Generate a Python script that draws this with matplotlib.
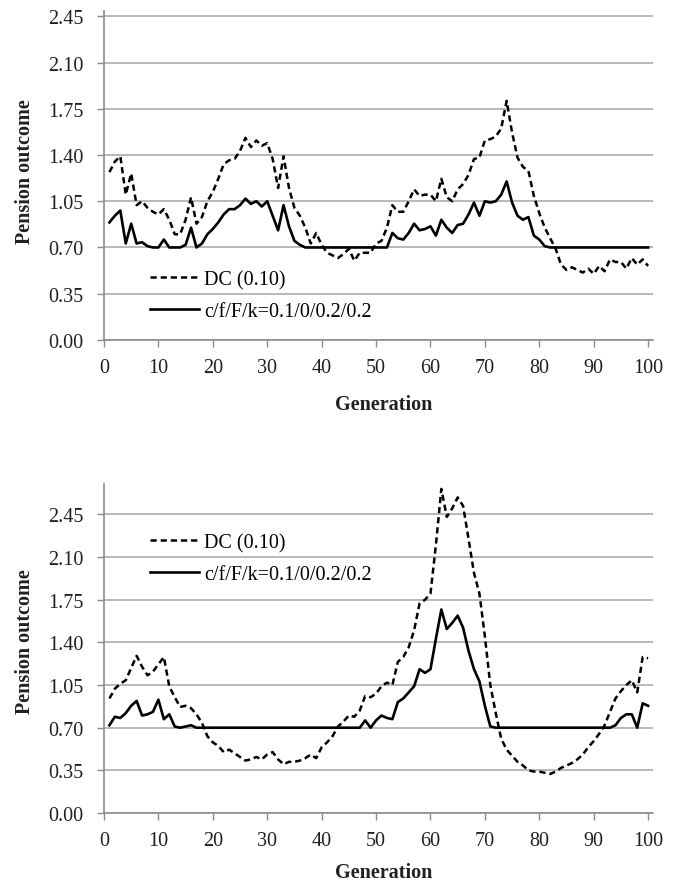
import numpy as np
import matplotlib
matplotlib.use('Agg')
import matplotlib.pyplot as plt

plt.rcParams['font.family'] = ['Liberation Serif', 'DejaVu Serif']
plt.rcParams['lines.scale_dashes'] = False

# Generations 1..100
generation = np.arange(1, 101)

# Upper panel values
dc_top = [
    1.27, 1.35, 1.39, 1.10, 1.26, 1.02, 1.05, 1.00, 0.97, 0.95,
    0.99, 0.91, 0.80, 0.80, 0.91, 1.08, 0.88, 0.93, 1.05, 1.12,
    1.22, 1.33, 1.36, 1.37, 1.43, 1.53, 1.46, 1.51, 1.47, 1.49,
    1.37, 1.15, 1.39, 1.15, 1.00, 0.94, 0.85, 0.73, 0.81, 0.72,
    0.66, 0.64, 0.62, 0.65, 0.69, 0.60, 0.66, 0.66, 0.66, 0.73,
    0.75, 0.85, 1.02, 0.97, 0.97, 1.05, 1.14, 1.09, 1.10, 1.10,
    1.05, 1.22, 1.08, 1.05, 1.14, 1.18, 1.25, 1.37, 1.38, 1.51,
    1.52, 1.54, 1.60, 1.81, 1.57, 1.38, 1.31, 1.28, 1.09, 0.96,
    0.85, 0.77, 0.69, 0.57, 0.53, 0.55, 0.53, 0.51, 0.54, 0.50,
    0.56, 0.52, 0.61, 0.59, 0.59, 0.54, 0.62, 0.57, 0.61, 0.56,
]
cf_top = [
    0.89, 0.94, 0.98, 0.73, 0.88, 0.73, 0.74, 0.71, 0.70, 0.70,
    0.76, 0.70, 0.70, 0.70, 0.72, 0.85, 0.70, 0.73, 0.80, 0.84,
    0.89, 0.95, 0.99, 0.99, 1.02, 1.07, 1.03, 1.05, 1.01, 1.05,
    0.94, 0.83, 1.02, 0.86, 0.75, 0.72, 0.70, 0.70, 0.70, 0.70,
    0.70, 0.70, 0.70, 0.70, 0.70, 0.70, 0.70, 0.70, 0.70, 0.70,
    0.70, 0.70, 0.81, 0.77, 0.76, 0.81, 0.88, 0.83, 0.84, 0.86,
    0.79, 0.91, 0.85, 0.81, 0.87, 0.88, 0.95, 1.04, 0.94, 1.05,
    1.04, 1.05, 1.10, 1.20, 1.04, 0.94, 0.91, 0.93, 0.79, 0.76,
    0.71, 0.70, 0.70, 0.70, 0.70, 0.70, 0.70, 0.70, 0.70, 0.70,
    0.70, 0.70, 0.70, 0.70, 0.70, 0.70, 0.70, 0.70, 0.70, 0.70,
]

# Lower panel values
dc_bottom = [
    0.94, 1.02, 1.06, 1.09, 1.19, 1.29, 1.20, 1.13, 1.16, 1.22,
    1.28, 1.04, 0.95, 0.87, 0.88, 0.86, 0.81, 0.74, 0.63, 0.58,
    0.55, 0.50, 0.52, 0.49, 0.46, 0.43, 0.44, 0.46, 0.44, 0.48,
    0.50, 0.44, 0.40, 0.42, 0.42, 0.43, 0.45, 0.48, 0.45, 0.54,
    0.58, 0.63, 0.71, 0.75, 0.80, 0.79, 0.84, 0.96, 0.95, 0.98,
    1.04, 1.07, 1.05, 1.24, 1.28, 1.36, 1.50, 1.72, 1.75, 1.80,
    2.20, 2.66, 2.43, 2.50, 2.59, 2.52, 2.25, 1.97, 1.80, 1.45,
    1.05, 0.82, 0.61, 0.52, 0.47, 0.42, 0.39, 0.35, 0.34, 0.34,
    0.33, 0.32, 0.34, 0.37, 0.39, 0.41, 0.44, 0.48, 0.54, 0.59,
    0.65, 0.72, 0.83, 0.94, 1.00, 1.05, 1.09, 0.99, 1.28, 1.27,
]
cf_bottom = [
    0.72, 0.79, 0.78, 0.82, 0.88, 0.92, 0.80, 0.81, 0.83, 0.93,
    0.77, 0.81, 0.71, 0.70, 0.71, 0.72, 0.70, 0.70, 0.70, 0.70,
    0.70, 0.70, 0.70, 0.70, 0.70, 0.70, 0.70, 0.70, 0.70, 0.70,
    0.70, 0.70, 0.70, 0.70, 0.70, 0.70, 0.70, 0.70, 0.70, 0.70,
    0.70, 0.70, 0.70, 0.70, 0.70, 0.70, 0.70, 0.76, 0.70, 0.76,
    0.80, 0.78, 0.77, 0.91, 0.94, 0.99, 1.04, 1.18, 1.15, 1.18,
    1.43, 1.67, 1.51, 1.56, 1.62, 1.52, 1.33, 1.18, 1.08, 0.88,
    0.71, 0.70, 0.70, 0.70, 0.70, 0.70, 0.70, 0.70, 0.70, 0.70,
    0.70, 0.70, 0.70, 0.70, 0.70, 0.70, 0.70, 0.70, 0.70, 0.70,
    0.70, 0.70, 0.70, 0.72, 0.78, 0.81, 0.81, 0.70, 0.90, 0.88,
]

y_ticks = [0.00, 0.35, 0.70, 1.05, 1.40, 1.75, 2.10, 2.45]
x_ticks = [0, 10, 20, 30, 40, 50, 60, 70, 80, 90, 100]
labels = ['DC (0.10)', 'c/f/F/k=0.1/0/0.2/0.2']

fig = plt.figure(figsize=(6.85, 8.87), dpi=100)
ax_top = fig.add_axes([0.1518, 0.6156, 0.8015, 0.3709])
ax_bot = fig.add_axes([0.1518, 0.0823, 0.8015, 0.3709])

text_col = '#231f20'
fs = 14.5


def style_axes(ax, ymax, legend_y, ylabel_y, xlabel_y):
    ax.set_xlim(0, 100.9)
    ax.set_ylim(0, ymax)
    ax.set_xticks(x_ticks)
    ax.set_yticks(y_ticks)
    ax.set_yticklabels([f'{t:.2f}' for t in y_ticks])
    ax.yaxis.grid(True, color='#a6a6a6', linewidth=1.1)
    ax.set_axisbelow(True)
    for side in ['top', 'right']:
        ax.spines[side].set_visible(False)
    for side in ['left', 'bottom']:
        ax.spines[side].set_color('#8c8c8c')
        ax.spines[side].set_linewidth(1.2)
    ax.tick_params(axis='both', direction='out', length=5, width=1.0,
                   color='#8c8c8c', labelsize=fs, labelcolor=text_col)
    ax.tick_params(axis='y', pad=10)
    ax.tick_params(axis='x', pad=8)
    ax.set_xlabel('Generation', fontsize=fs, fontweight='bold',
                  color=text_col, va='center')
    ax.xaxis.set_label_coords(0.51, xlabel_y)
    ax.set_ylabel('Pension outcome', fontsize=fs, fontweight='bold',
                  color=text_col, va='center')
    ax.yaxis.set_label_coords(-0.144, ylabel_y)
    ax.legend(labels, loc='center left', bbox_to_anchor=(0.084, legend_y),
              frameon=False, fontsize=fs, handlelength=2.45,
              handletextpad=0.25, labelspacing=0.65, borderpad=0,
              borderaxespad=0)


for ax, dc, cf, ymax, ly, yl, xl in [
        (ax_top, dc_top, cf_top, 2.49, 0.135, 0.515, -0.195),
        (ax_bot, dc_bottom, cf_bottom, 2.70, 0.773, 0.525, -0.178)]:
    ax.plot(generation, dc, color='black', linewidth=1.8,
            linestyle=(0, (4.5, 2.8)))
    ax.plot(generation, cf, color='black', linewidth=1.9)
    style_axes(ax, ymax, ly, yl, xl)

fig.savefig('out.png', dpi=100)
